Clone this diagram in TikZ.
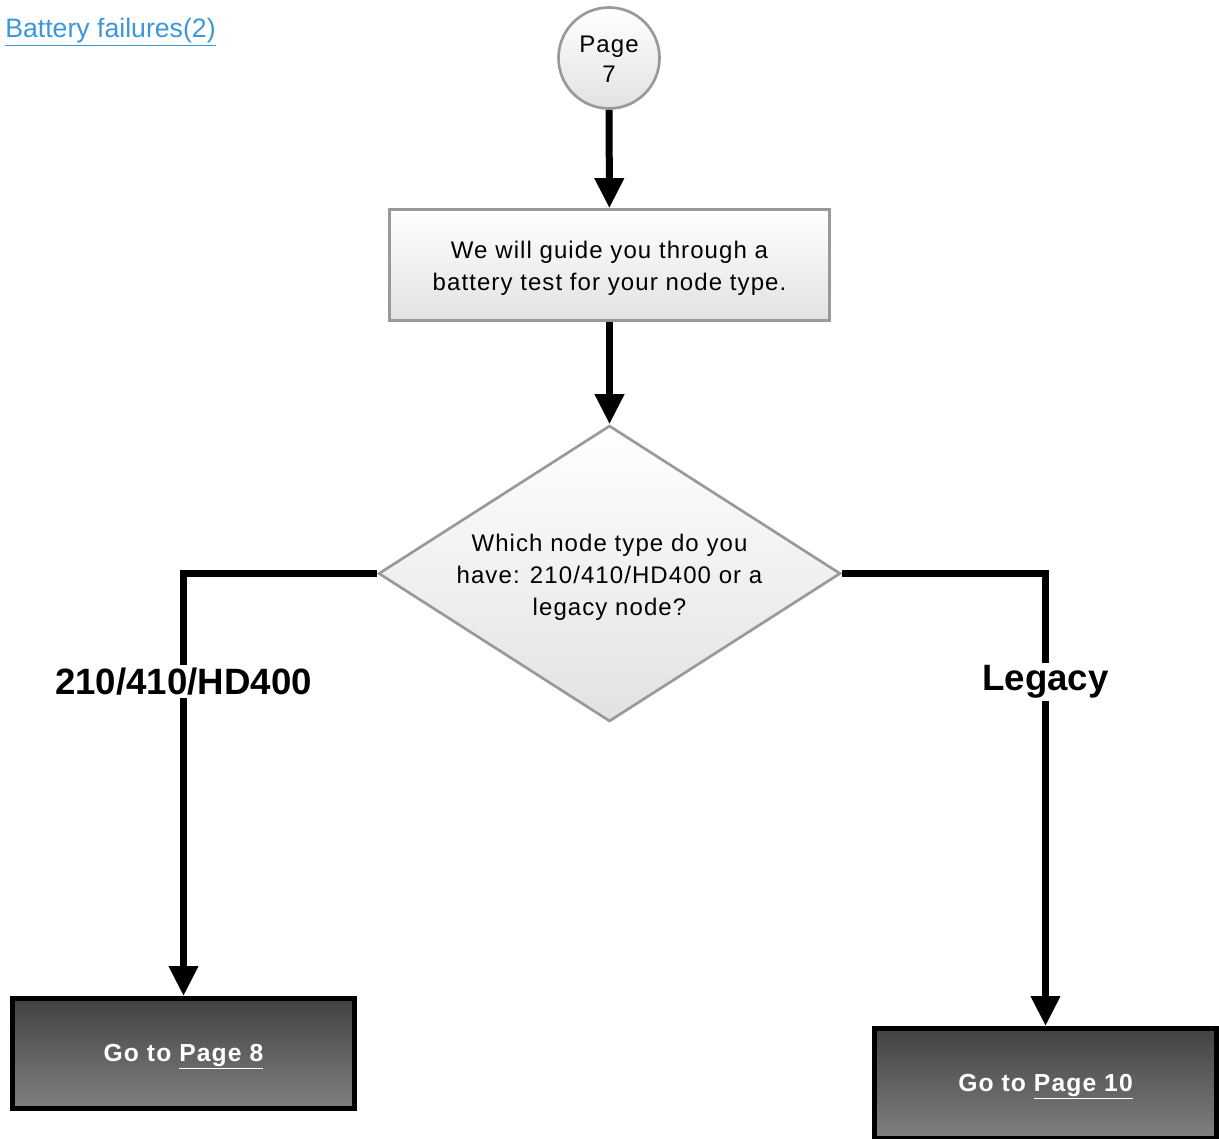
\documentclass[tikz,border=0pt]{standalone}
\usepackage{fontspec}
\setmainfont{Liberation Sans}
\newfontfamily\spc[LetterSpace=4.5]{Liberation Sans}
\usetikzlibrary{shapes.geometric,arrows.meta}
\definecolor{linkblue}{RGB}{59,151,217}
\definecolor{edgegray}{RGB}{153,153,153}
\definecolor{lightfill}{RGB}{226,226,226}
\definecolor{darktop}{RGB}{66,66,66}
\definecolor{darkbot}{RGB}{128,128,128}
\begin{document}
\begin{tikzpicture}[x=0.75pt,y=-0.75pt,
  txt/.style={font=\spc\fontsize{18pt}{24pt}\selectfont, align=center, text=black},
  lightshape/.style={draw=edgegray, line width=2pt, top color=white, bottom color=lightfill},
  darktxt/.style={text=white, align=center, font=\spc\bfseries\fontsize{18.5pt}{22pt}\selectfont},
  darkbox/.style={rectangle, draw=black, line width=3.75pt, top color=darktop, bottom color=darkbot,
    minimum width=256.5pt, minimum height=82.5pt, inner sep=0pt},
  flow/.style={line width=5.25pt, -{Triangle[length=22.5pt,width=21pt]}},
  brlabel/.style={fill=white, inner sep=2pt, text=black, font=\bfseries\fontsize{27.5pt}{33pt}\selectfont}]
\useasboundingbox (0,0) rectangle (1219,1138);

\node[anchor=base west, text=linkblue, font=\fontsize{20pt}{24pt}\selectfont, inner sep=0pt]
  (link) at (5,38) {\underline{Battery failures(2)}};

\node[lightshape, circle, minimum size=75.75pt, inner sep=0pt,
  label={[txt, font=\spc\fontsize{18pt}{22.5pt}\selectfont, yshift=-1pt]center:Page\\7}] (p7) at (609,58) {};

\node[lightshape, rectangle, minimum width=330pt, minimum height=83.25pt, inner sep=0pt,
  label={[txt, yshift=-2.5pt]center:We will guide you through a\\battery test for your node type.}]
  (intro) at (609.5,265) {};

\node[lightshape, diamond, minimum width=346.5pt, minimum height=222pt, inner sep=0pt,
  label={[txt, yshift=-3pt]center:Which node type do you\\have: 210/410/HD400 or a\\legacy node?}]
  (q) at (609.5,573.5) {};

\node[darkbox, label={[darktxt, yshift=-2.5pt]center:Go to \underline{Page 8}}] (pg8) at (183.5,1053.5) {};
\node[darkbox, label={[darktxt, yshift=-2.5pt]center:Go to \underline{Page 10}}] (pg10) at (1045.5,1083.5) {};

\draw[flow] (p7) -- (intro);
\draw[flow] (intro) -- (q);
\draw[flow] (q.west) -| node[brlabel, pos=0.628] (lab1) {210/410/HD400} (pg8.north);
\draw[flow] (q.east) -| node[brlabel, pos=0.62] (lab2) {Legacy} (pg10.north);
\end{tikzpicture}
\end{document}
